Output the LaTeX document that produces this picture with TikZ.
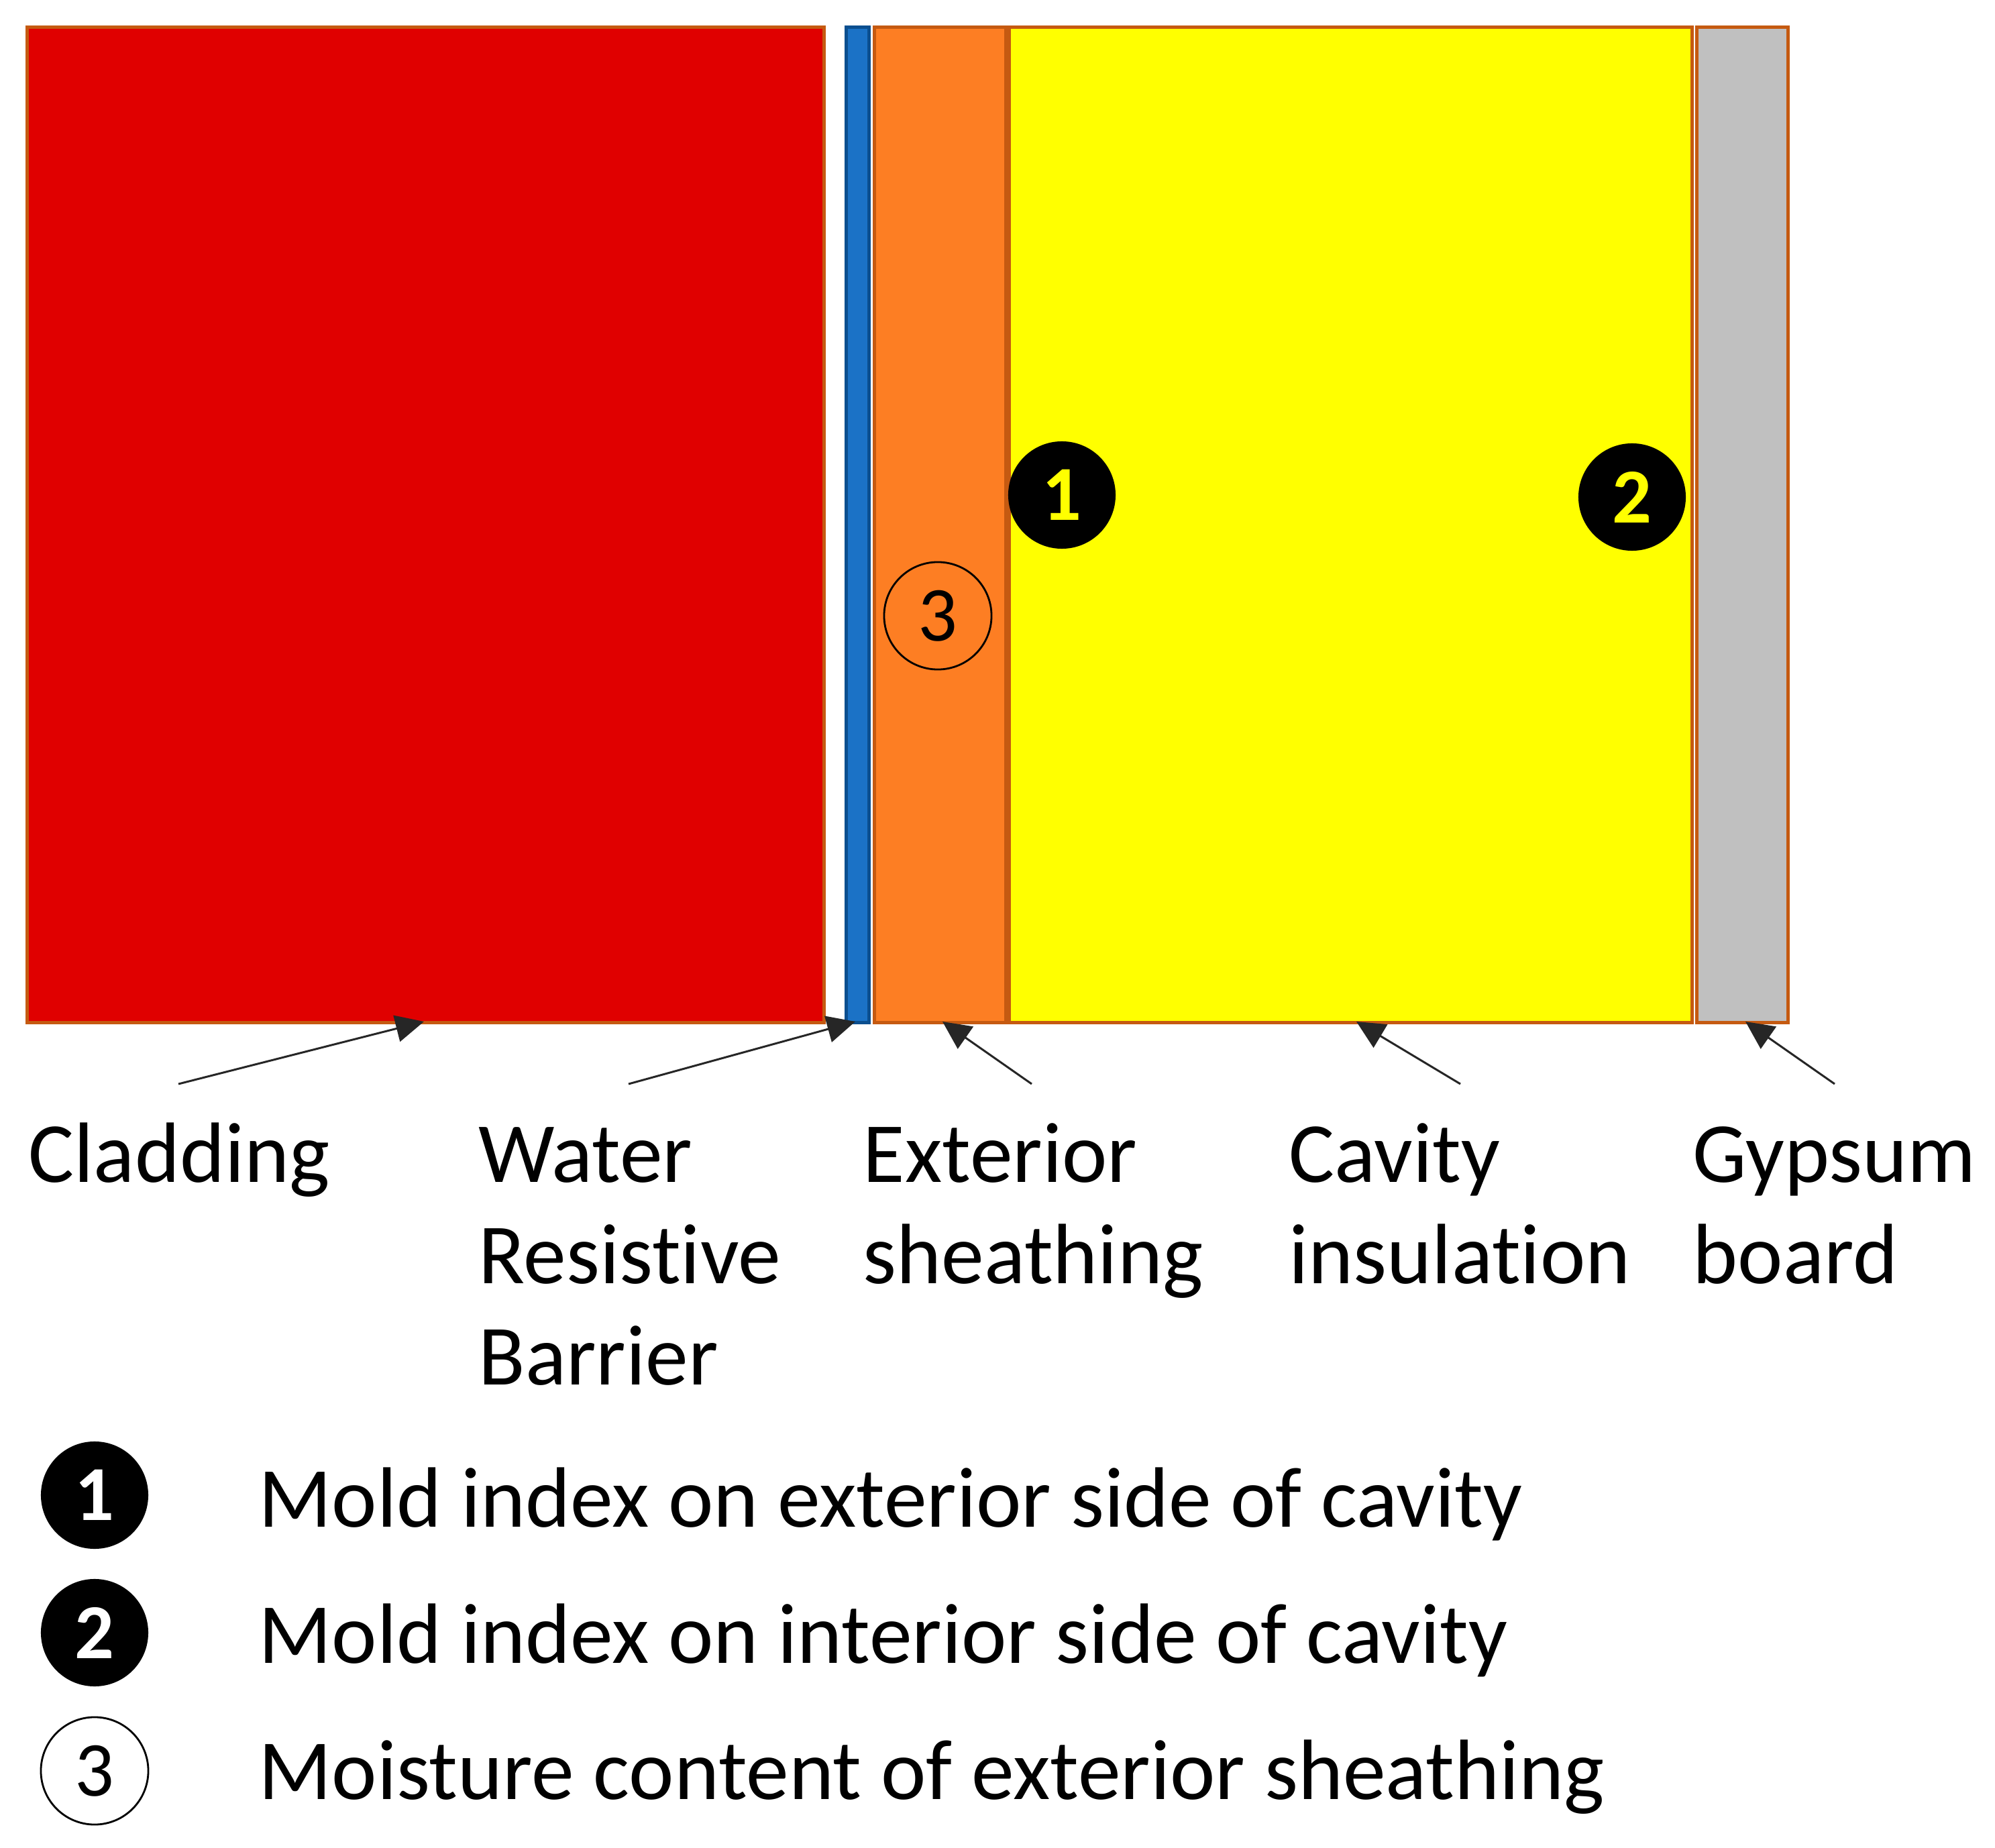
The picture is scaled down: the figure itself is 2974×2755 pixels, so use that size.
\documentclass[tikz,border=0pt]{standalone}
\usepackage{fontspec}
\setmainfont{Carlito}[Ligatures=NoCommon]
\usetikzlibrary{arrows.meta}
\definecolor{cladred}{HTML}{E00000}
\definecolor{edgeor}{HTML}{C55A11}
\definecolor{sheathor}{HTML}{FD7E23}
\definecolor{wrbblue}{HTML}{1B72C6}
\definecolor{wrbedge}{HTML}{0B4F8F}
\definecolor{gypgray}{HTML}{C0C0C0}
\definecolor{insyel}{HTML}{FFFF00}
\tikzset{
  layer/.style={draw=edgeor, line width=1.4pt, inner sep=0pt, anchor=north west},
  lbl/.style={inner sep=0pt, anchor=base west, align=left, font=\fontsize{36.3}{42.9}\selectfont},
  pointer/.style={draw=black!85, line width=0.85pt, -{Triangle[length=0.42cm,width=0.4cm]}},
  dotblack/.style={circle, fill=black, minimum size=1.6cm, inner sep=0pt, font=\fontsize{33}{33}\selectfont\bfseries},
  dotwhite/.style={circle, draw=black, line width=0.8pt, minimum size=1.6cm, inner sep=0pt, font=\fontsize{33}{33}\selectfont},
}
\begin{document}
\begin{tikzpicture}[x=0.01cm, y=-0.01cm]
\useasboundingbox (0,0) rectangle (2974,2755);
% layers
\node[layer, fill=cladred, minimum width=11.87cm, minimum height=14.83cm] (clad) at (38,38) {};
\node[layer, draw=wrbedge, fill=wrbblue, minimum width=0.34cm, minimum height=14.83cm] (wrb) at (1259,38) {};
\node[layer, fill=sheathor, minimum width=1.96cm, minimum height=14.83cm] (sheath) at (1301,38) {};
\node[layer, fill=insyel, minimum width=10.17cm, minimum height=14.83cm] (ins) at (1502,38) {};
\node[layer, fill=gypgray, minimum width=1.36cm, minimum height=14.83cm] (gyp) at (2527,38) {};
% markers
\node[dotblack, text=insyel] (m1) at (1583,738) {1};
\node[dotblack, text=insyel] (m2) at (2433,741) {2};
\node[dotwhite] (m3) at (1398,918) {3};
% labels (base anchor = baseline of the last line)
\node[lbl] (lclad) at (42,1762) {Cladding};
\node[lbl] (lwrb) at (713,2064) {Water\\Resistive\\Barrier};
\node[lbl] (lsheath) at (1286,1913) {Exterior\\sheathing};
\node[lbl] (lins) at (1921,1913) {Cavity\\insulation};
\node[lbl] (lgyp) at (2523,1913) {Gypsum\\board};
% arrow ends
\coordinate (a1s) at (266,1616); \coordinate (a1e) at (632,1523);
\coordinate (a2s) at (937,1616); \coordinate (a2e) at (1275,1523);
\coordinate (a3s) at (1538,1616); \coordinate (a3e) at (1405,1523);
\coordinate (a4s) at (2177,1616); \coordinate (a4e) at (2022,1523);
\coordinate (a5s) at (2735,1616); \coordinate (a5e) at (2602,1523);
\draw[pointer] (a1s) -- (a1e);
\draw[pointer] (a2s) -- (a2e);
\draw[pointer] (a3s) -- (a3e);
\draw[pointer] (a4s) -- (a4e);
\draw[pointer] (a5s) -- (a5e);
% legend
\node[dotblack, text=white] (k1) at (141,2229) {1};
\node[dotblack, text=white] (k2) at (141,2434) {2};
\node[dotwhite, fill=white] (k3) at (141,2640) {3};
\node[lbl] (t1) at (385,2276) {Mold index on exterior side of cavity};
\node[lbl] (t2) at (385,2479) {Mold index on interior side of cavity};
\node[lbl] (t3) at (385,2682) {Moisture content of exterior sheathing};
\end{tikzpicture}
\end{document}
